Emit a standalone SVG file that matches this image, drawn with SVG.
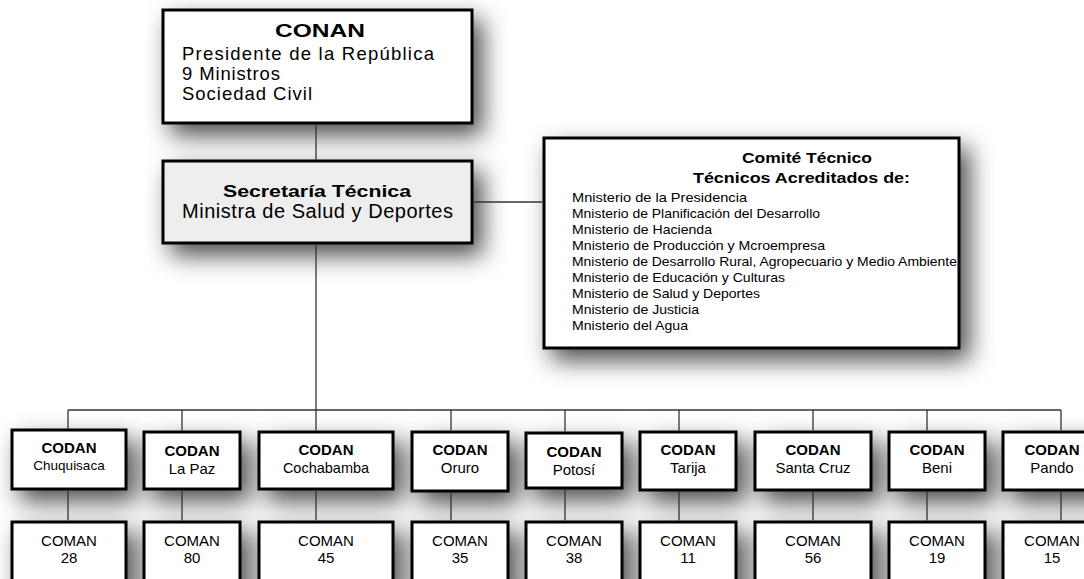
<svg xmlns="http://www.w3.org/2000/svg" width="1084" height="579" viewBox="0 0 1084 579">
<defs>
<filter id="sh" x="-50%" y="-50%" width="210%" height="230%">
<feDropShadow dx="9" dy="11" stdDeviation="12" flood-color="#000" flood-opacity="0.7"/>
</filter>
<style>
text{font-family:"Liberation Sans",Arial,sans-serif;fill:#000}
.box{fill:#fff;stroke:#000;stroke-width:3}
.gray{fill:#eeeeee}
.b{font-weight:bold}
.c{text-anchor:middle}
.ln{stroke:#333;stroke-width:1.3;fill:none}
.t15{font-size:15px}
.m{font-size:13px}
</style>
</defs>
<rect width="1084" height="579" fill="#fff"/>

<g id="node-conan">
<rect class="box" x="163" y="10" width="309" height="113" filter="url(#sh)"/>
<text class="b c" x="320" y="37" font-size="18" textLength="90" lengthAdjust="spacingAndGlyphs">CONAN</text>
<text x="182" y="60" font-size="18.5" textLength="252" lengthAdjust="spacing">Presidente de la República</text>
<text x="182" y="80" font-size="18.5" textLength="98" lengthAdjust="spacing">9 Ministros</text>
<text x="182" y="100" font-size="18.5" textLength="130" lengthAdjust="spacing">Sociedad Civil</text>
</g>

<g id="node-secretaria">
<rect class="box gray" x="163" y="161" width="309" height="82" filter="url(#sh)"/>
<text class="b c" x="317" y="197" font-size="16" textLength="188" lengthAdjust="spacingAndGlyphs">Secretaría Técnica</text>
<text class="c" x="317.5" y="218" font-size="20" textLength="271" lengthAdjust="spacing">Ministra de Salud y Deportes</text>
</g>

<g id="node-comite">
<rect class="box" x="544" y="138" width="415" height="210" filter="url(#sh)"/>
<text class="b c" x="807" y="163" font-size="15.5" textLength="130" lengthAdjust="spacingAndGlyphs">Comité Técnico</text>
<text class="b c" x="801.5" y="183" font-size="15.5" textLength="217" lengthAdjust="spacingAndGlyphs">Técnicos Acreditados de:</text>
<text class="m" x="572" y="202" textLength="175" lengthAdjust="spacingAndGlyphs">Mnisterio de la Presidencia</text>
<text class="m" x="572" y="218" textLength="248" lengthAdjust="spacingAndGlyphs">Mnisterio de Planificación del Desarrollo</text>
<text class="m" x="572" y="234" textLength="140" lengthAdjust="spacingAndGlyphs">Mnisterio de Hacienda</text>
<text class="m" x="572" y="250" textLength="253" lengthAdjust="spacingAndGlyphs">Mnisterio de Producción y Mcroempresa</text>
<text class="m" x="572" y="266" textLength="385" lengthAdjust="spacingAndGlyphs">Mnisterio de Desarrollo Rural, Agropecuario y Medio Ambiente</text>
<text class="m" x="572" y="282" textLength="213" lengthAdjust="spacingAndGlyphs">Mnisterio de Educación y Culturas</text>
<text class="m" x="572" y="298" textLength="188" lengthAdjust="spacingAndGlyphs">Mnisterio de Salud y Deportes</text>
<text class="m" x="572" y="314" textLength="127" lengthAdjust="spacingAndGlyphs">Mnisterio de Justicia</text>
<text class="m" x="572" y="330" textLength="116" lengthAdjust="spacingAndGlyphs">Mnisterio del Agua</text>
</g>

<g id="node-codan-chuquisaca">
<rect class="box" x="12" y="430" width="114" height="59" filter="url(#sh)"/>
<text class="b c t15" x="69" y="453">CODAN</text>
<text class="c" x="69" y="470" font-size="13.5">Chuquisaca</text>
</g>
<g id="node-codan-lapaz">
<rect class="box" x="144" y="432" width="96" height="57" filter="url(#sh)"/>
<text class="b c t15" x="192" y="456">CODAN</text>
<text class="c t15" x="192" y="474">La Paz</text>
</g>
<g id="node-codan-cochabamba">
<rect class="box" x="259" y="432" width="134" height="57" filter="url(#sh)"/>
<text class="b c t15" x="326" y="455">CODAN</text>
<text class="c" x="326" y="473" font-size="14.5">Cochabamba</text>
</g>
<g id="node-codan-oruro">
<rect class="box" x="412" y="432" width="96" height="59" filter="url(#sh)"/>
<text class="b c t15" x="460" y="455">CODAN</text>
<text class="c t15" x="460" y="473">Oruro</text>
</g>
<g id="node-codan-potosi">
<rect class="box" x="526" y="433" width="96" height="55" filter="url(#sh)"/>
<text class="b c t15" x="574" y="457">CODAN</text>
<text class="c t15" x="574" y="475">Potosí</text>
</g>
<g id="node-codan-tarija">
<rect class="box" x="640" y="432" width="96" height="58" filter="url(#sh)"/>
<text class="b c t15" x="688" y="455">CODAN</text>
<text class="c t15" x="688" y="473">Tarija</text>
</g>
<g id="node-codan-santacruz">
<rect class="box" x="755" y="432" width="116" height="58" filter="url(#sh)"/>
<text class="b c t15" x="813" y="455">CODAN</text>
<text class="c t15" x="813" y="473">Santa Cruz</text>
</g>
<g id="node-codan-beni">
<rect class="box" x="889" y="432" width="96" height="58" filter="url(#sh)"/>
<text class="b c t15" x="937" y="455">CODAN</text>
<text class="c t15" x="937" y="473">Beni</text>
</g>
<g id="node-codan-pando">
<rect class="box" x="1003" y="432" width="98" height="58" filter="url(#sh)"/>
<text class="b c t15" x="1052" y="455">CODAN</text>
<text class="c t15" x="1052" y="473">Pando</text>
</g>

<g id="node-coman-28"><rect class="box" x="12" y="522" width="114" height="70" filter="url(#sh)"/><text class="c t15" x="69" y="546">COMAN</text><text class="c t15" x="69" y="563">28</text></g>
<g id="node-coman-80"><rect class="box" x="144" y="522" width="96" height="70" filter="url(#sh)"/><text class="c t15" x="192" y="546">COMAN</text><text class="c t15" x="192" y="563">80</text></g>
<g id="node-coman-45"><rect class="box" x="259" y="522" width="134" height="70" filter="url(#sh)"/><text class="c t15" x="326" y="546">COMAN</text><text class="c t15" x="326" y="563">45</text></g>
<g id="node-coman-35"><rect class="box" x="412" y="522" width="96" height="70" filter="url(#sh)"/><text class="c t15" x="460" y="546">COMAN</text><text class="c t15" x="460" y="563">35</text></g>
<g id="node-coman-38"><rect class="box" x="526" y="522" width="96" height="70" filter="url(#sh)"/><text class="c t15" x="574" y="546">COMAN</text><text class="c t15" x="574" y="563">38</text></g>
<g id="node-coman-11"><rect class="box" x="640" y="522" width="96" height="70" filter="url(#sh)"/><text class="c t15" x="688" y="546">COMAN</text><text class="c t15" x="688" y="563">11</text></g>
<g id="node-coman-56"><rect class="box" x="755" y="522" width="116" height="70" filter="url(#sh)"/><text class="c t15" x="813" y="546">COMAN</text><text class="c t15" x="813" y="563">56</text></g>
<g id="node-coman-19"><rect class="box" x="889" y="522" width="96" height="70" filter="url(#sh)"/><text class="c t15" x="937" y="546">COMAN</text><text class="c t15" x="937" y="563">19</text></g>
<g id="node-coman-15"><rect class="box" x="1003" y="522" width="98" height="70" filter="url(#sh)"/><text class="c t15" x="1052" y="546">COMAN</text><text class="c t15" x="1052" y="563">15</text></g>

<g id="connectors" class="ln">
<path d="M316 124.5V159.5"/>
<path d="M316 244.5V410"/>
<path d="M473.5 202H542.5"/>
<path d="M68 410H1061"/>
<path d="M68 410V428.5M182 410V430.5M316 410V430.5M451 410V430.5M565 410V431.5M679 410V430.5M813 410V430.5M927 410V430.5M1061 410V430.5"/>
<path d="M68 490.5V520.5M182 490.5V520.5M316 490.5V520.5M451 492.5V520.5M565 489.5V520.5M679 491.5V520.5M813 491.5V520.5M927 491.5V520.5M1061 491.5V520.5"/>
</g>
</svg>
